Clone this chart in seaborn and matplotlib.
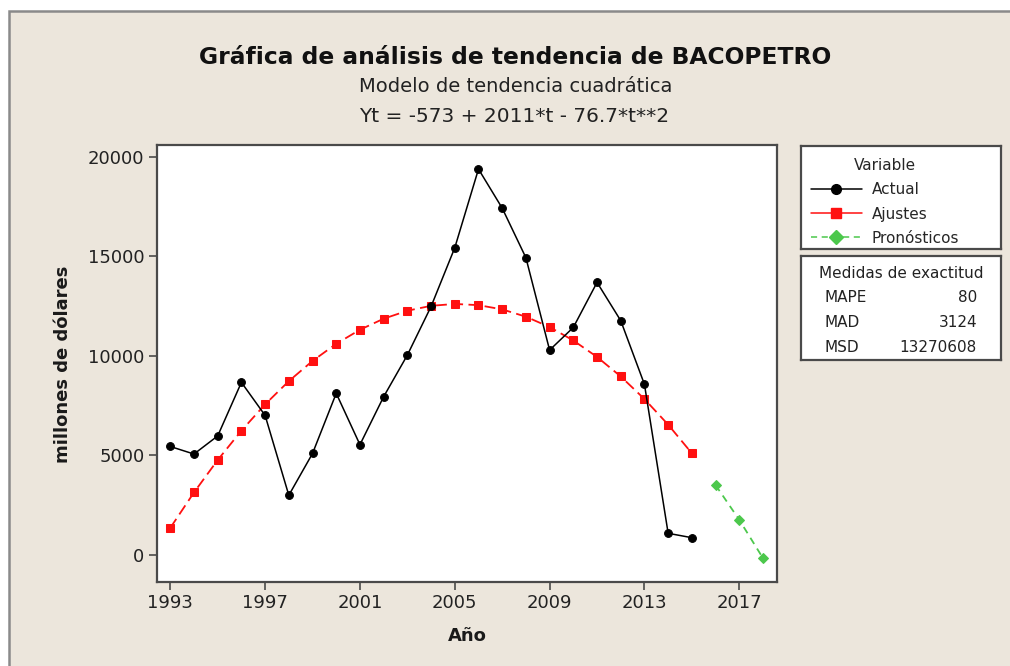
import matplotlib
matplotlib.use("Agg")
import matplotlib.pyplot as plt
import seaborn as sns
import pandas as pd
from matplotlib.patches import Rectangle
from matplotlib.lines import Line2D

# ---------------- data ----------------
years_actual = list(range(1993, 2016))
actual = [5450, 5070, 5980, 8670, 7010, 3000, 5100, 8120, 5540, 7950,
          10040, 12480, 15430, 19380, 17420, 14930, 10290, 11430, 13690,
          11770, 8570, 1090, 870]
years_fit = list(range(1993, 2016))
fitted = [1361, 3142, 4770, 6244, 7565, 8732, 9746, 10606, 11313, 11867,
          12267, 12514, 12608, 12548, 12335, 11968, 11448, 10774, 9947,
          8967, 7833, 6546, 5107]
years_fc = [2016, 2017, 2018]
forecast = [3512, 1765, -160]

x_ticks = [1993, 1997, 2001, 2005, 2009, 2013, 2017]
y_ticks = [0, 5000, 10000, 15000, 20000]
accuracy_names = ["MAPE", "MAD", "MSD"]
accuracy_values = ["80", "3124", "13270608"]

title = "Gráfica de análisis de tendencia de BACOPETRO"
subtitle = "Modelo de tendencia cuadrática"
equation = "Yt = -573 + 2011*t - 76.7*t**2"

# ---------------- style ----------------
sns.set_theme(style="white")
plt.rcParams["font.family"] = ["DejaVu Sans"]

W, H = 1010, 666
BG = "#ECE6DC"
FRAME = "#4a4a4a"
RED = "#FF1010"
GREEN = "#4CC84C"

fig = plt.figure(figsize=(W / 100, H / 100), dpi=100)
fig.patch.set_facecolor("white")
fig.patches.append(Rectangle((9 / W, -0.05), 1.2, 1 - 11 / H + 0.05,
                             transform=fig.transFigure, facecolor=BG,
                             edgecolor="#8a8a8a", linewidth=1.8, zorder=-10))

def rect(x0, y0, x1, y1):
    return [x0 / W, 1 - y1 / H, (x1 - x0) / W, (y1 - y0) / H]

ax = fig.add_axes(rect(157, 145, 776.5, 581.5))
ax.set_facecolor("white")

df_a = pd.DataFrame({"Año": years_actual, "v": actual})
df_f = pd.DataFrame({"Año": years_fit, "v": fitted})
df_p = pd.DataFrame({"Año": years_fc, "v": forecast})

sns.lineplot(data=df_f, x="Año", y="v", ax=ax, color=RED, linestyle=(0, (6, 3)),
             linewidth=1.3, marker="s", markersize=5.6, markeredgecolor=RED,
             markerfacecolor=RED, zorder=2)
sns.lineplot(data=df_a, x="Año", y="v", ax=ax, color="black", linewidth=1.1,
             marker="o", markersize=5.6, markeredgecolor="black",
             markerfacecolor="black", zorder=3)
sns.lineplot(data=df_p, x="Año", y="v", ax=ax, color=GREEN, linestyle=(0, (4, 3)),
             linewidth=1.3, marker="D", markersize=5.6, markeredgecolor=GREEN,
             markerfacecolor=GREEN, zorder=2)

ax.set_xlim(1992.44, 2018.57)
ax.set_ylim(-1330, 20590)
ax.set_xticks(x_ticks)
ax.set_yticks(y_ticks)
ax.set_xticklabels([str(v) for v in x_ticks])
ax.set_yticklabels([str(v) for v in y_ticks])
ax.tick_params(axis="both", which="both", direction="out", length=6, width=1.2,
               color=FRAME, labelsize=13, labelcolor="#222222", pad=3,
               left=True, bottom=True)
for s in ax.spines.values():
    s.set_color(FRAME)
    s.set_linewidth(1.6)
ax.set_xlabel("")
ax.set_ylabel("")

fig.text(467 / W, 1 - 636 / H, "Año", ha="center", va="center",
         fontsize=13, fontweight="bold", color="#1a1a1a")
fig.text(63 / W, 1 - 364 / H, "millones de dólares", ha="center", va="center",
         rotation=90, fontsize=13, fontweight="bold", color="#1a1a1a")

fig.text(515 / W, 1 - 58 / H, title, ha="center", va="center",
         fontsize=16.8, fontweight="bold", color="#111111")
fig.text(516 / W, 1 - 87 / H, subtitle, ha="center", va="center",
         fontsize=14, color="#222222")
fig.text(514 / W, 1 - 117 / H, equation, ha="center", va="center",
         fontsize=14.5, color="#222222")

# ---------------- legend box ----------------
lax = fig.add_axes(rect(801, 146, 1001, 249))
lax.set_facecolor("white")
lax.set_xticks([]); lax.set_yticks([])
for s in lax.spines.values():
    s.set_color(FRAME); s.set_linewidth(1.6)
handles = [
    Line2D([], [], color="black", linewidth=1.1, marker="o", markersize=7),
    Line2D([], [], color=RED, linewidth=1.1, marker="s", markersize=7),
    Line2D([], [], color=GREEN, linewidth=1.1, linestyle=(0, (4, 3)), marker="D", markersize=7),
]
leg = lax.legend(handles, ["Actual", "Ajustes", "Pronósticos"], title="Variable",
                 loc="upper left", bbox_to_anchor=(-0.01, 1.0), frameon=False,
                 fontsize=11, title_fontsize=11, handlelength=3.3,
                 handletextpad=0.65, labelspacing=0.6, borderpad=0.3)

# ---------------- accuracy box ----------------
bax = fig.add_axes(rect(801, 256, 1001, 360))
bax.set_facecolor("white")
bax.set_xlim(801, 1001); bax.set_ylim(360, 256)
bax.set_xticks([]); bax.set_yticks([])
for s in bax.spines.values():
    s.set_color(FRAME); s.set_linewidth(1.6)
bax.text(901, 274, "Medidas de exactitud", ha="center", va="center", fontsize=11,
         color="#222222")
for i, (n, v) in enumerate(zip(accuracy_names, accuracy_values)):
    yy = 298 + i * 24.5
    bax.text(825, yy, n, ha="left", va="center", fontsize=11, color="#222222")
    bax.text(977, yy, v, ha="right", va="center", fontsize=11, color="#222222")

fig.savefig("out.png", dpi=100, facecolor=fig.get_facecolor())
